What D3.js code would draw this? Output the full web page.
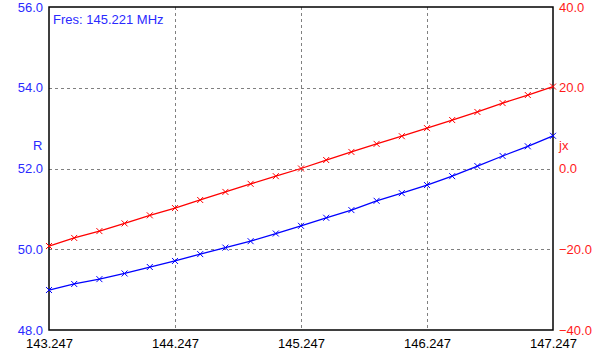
<!DOCTYPE html>
<html>
<head>
<meta charset="utf-8">
<script src="https://cdn.jsdelivr.net/npm/d3@7"></script>
<style>
  body { margin: 0; background: #fff; }
  svg { display: block; font-family: Arial, "Liberation Sans", sans-serif; }
</style>
</head>
<body>
<svg id="chart" width="596" height="360"></svg>
<script>
"use strict";

// frequency steps, MHz
var freqs = [143.247, 143.447, 143.647, 143.847, 144.047, 144.247, 144.447, 144.647,
  144.847, 145.047, 145.247, 145.447, 145.647, 145.847, 146.047, 146.247,
  146.447, 146.647, 146.847, 147.047, 147.247];
var rValues = [48.99, 49.14, 49.26, 49.40, 49.56, 49.71, 49.88, 50.04, 50.20, 50.39,
  50.58, 50.78, 50.97, 51.20, 51.39, 51.59, 51.81, 52.06, 52.31, 52.55, 52.81];
var jxValues = [-19.2, -17.2, -15.5, -13.6, -11.6, -9.8, -7.8, -5.8, -3.8, -1.9,
  0.0, 2.1, 4.1, 6.1, 8.0, 10.0, 12.0, 14.0, 16.2, 18.2, 20.3];
var xTicks = [143.247, 144.247, 145.247, 146.247, 147.247];
var rTicks = [48, 50, 52, 54, 56];
var jxTicks = [-40, -20, 0, 20, 40];
var fresLabel = 'Fres: 145.221 MHz';

function _draw_chart(svg) {
  var margin = { top: 7, right: 43, bottom: 30, left: 49 };
  var width = 596 - margin.left - margin.right;
  var height = 360 - margin.top - margin.bottom;
  var fs = '13px';

  var plot = svg.append('g')
    .attr('transform', 'translate(' + margin.left + ',' + margin.top + ')');

  var X = d3.scaleLinear().domain([143.247, 147.247]).range([0, width]);
  var YR = d3.scaleLinear().domain([48, 56]).range([height, 0]);
  var YJ = d3.scaleLinear().domain([-40, 40]).range([height, 0]);

  // dashed grid
  plot.append('g').selectAll('line')
    .data(xTicks.slice(1, -1))
    .enter().append('line')
    .attr('x1', d => Math.round(X(d)) + 0.5).attr('x2', d => Math.round(X(d)) + 0.5)
    .attr('y1', 0).attr('y2', height)
    .attr('stroke', '#808080').attr('stroke-dasharray', '3,3');
  plot.append('g').selectAll('line')
    .data(rTicks.slice(1, -1))
    .enter().append('line')
    .attr('y1', d => Math.round(YR(d)) + 0.5).attr('y2', d => Math.round(YR(d)) + 0.5)
    .attr('x1', 0).attr('x2', width)
    .attr('stroke', '#808080').attr('stroke-dasharray', '3,3');

  // frame
  plot.append('rect')
    .attr('x', 0).attr('y', 0)
    .attr('width', width).attr('height', height)
    .attr('fill', 'none').attr('stroke', '#000').attr('stroke-width', 1.5);

  // axes built with d3 axes, then stripped of domain and ticks
  var xaxis = plot.append('g')
    .attr('transform', 'translate(0,' + height + ')')
    .call(d3.axisBottom(X).tickValues(xTicks).tickFormat(d3.format('.3f')).tickSize(0).tickPadding(9));
  var raxis = plot.append('g')
    .call(d3.axisLeft(YR).tickValues(rTicks).tickFormat(d3.format('.1f')).tickSize(0).tickPadding(6));
  var jaxis = plot.append('g')
    .attr('transform', 'translate(' + width + ',0)')
    .call(d3.axisRight(YJ).tickValues(jxTicks).tickFormat(d3.format('.1f')).tickSize(0).tickPadding(6));

  [xaxis, raxis, jaxis].forEach(function (a) {
    a.select('.domain').remove();
    a.selectAll('text').style('font-size', fs).style('font-family', 'Arial, "Liberation Sans", sans-serif');
  });
  xaxis.selectAll('text').attr('fill', '#000');
  raxis.selectAll('text').attr('fill', '#2a2aff');
  jaxis.selectAll('text').attr('fill', '#ff1a1a');

  // series
  var series = [
    { vals: rValues, Y: YR, color: '#0000ff' },
    { vals: jxValues, Y: YJ, color: '#ff0000' }
  ];
  series.forEach(function (s) {
    var pts = freqs.map((f, i) => [X(f), s.Y(s.vals[i])]);
    plot.append('path')
      .attr('d', d3.line()(pts))
      .attr('fill', 'none')
      .attr('stroke', s.color)
      .attr('stroke-width', 1.3);
    var m = 3;
    plot.append('g').selectAll('path')
      .data(pts)
      .enter().append('path')
      .attr('d', d => 'M' + (d[0] - m) + ',' + (d[1] - m) + 'L' + (d[0] + m) + ',' + (d[1] + m) +
        'M' + (d[0] - m) + ',' + (d[1] + m) + 'L' + (d[0] + m) + ',' + (d[1] - m))
      .attr('stroke', s.color)
      .attr('stroke-width', 1);
  });

  // axis titles and resonance note
  svg.append('text')
    .attr('x', 33).attr('y', 150)
    .attr('fill', '#2a2aff')
    .style('font-size', fs)
    .text('R');
  svg.append('text')
    .attr('x', 559).attr('y', 150)
    .attr('fill', '#ff1a1a')
    .style('font-size', fs)
    .text('jx');
  svg.append('text')
    .attr('x', 53).attr('y', 24)
    .attr('fill', '#2a2aff')
    .style('font-size', fs)
    .text(fresLabel);
}

_draw_chart(d3.select('#chart'));
</script>
</body>
</html>
